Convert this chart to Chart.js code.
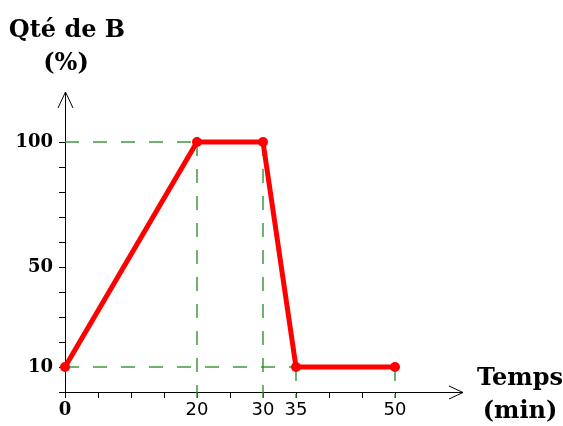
<!DOCTYPE html>
<html>
<head>
<meta charset="utf-8">
<script src="https://cdn.jsdelivr.net/npm/chart.js@4/dist/chart.umd.min.js"></script>
<style>
  html, body { margin: 0; padding: 0; background: #fff; }
  #wrap { width: 563px; height: 426px; }
</style>
</head>
<body>
<div id="wrap"><canvas id="c" width="563" height="426"></canvas></div>
<script>
// ---- data ----
const times = [0, 20, 30, 35, 50];          // Temps (min)
const qteB = [10, 100, 100, 10, 10];         // Qté de B (%)

// tick marks and labels
const xTickValues = [0, 5, 10, 15, 20, 25, 30, 35, 40, 45, 50];
const xTickLabels = [0, 20, 30, 35, 50];
const yTickValues = [0, 10, 20, 30, 40, 50, 60, 70, 80, 90, 100];
const yTickLabels = [10, 50, 100];

// dashed guide lines
const hGuideY = [100, 10];
const hGuideEndX = [20, 35];
const vGuideX = [20, 30, 35, 50];
const vGuideTopY = [100, 100, 10, 10];

const xTitle = ['Temps', '(min)'];
const yTitle = ['Qté de B', '(%)'];

const GREEN = '#2f922f';
const RED = '#ff0000';

const datasets = [{
  data: times.map((t, i) => ({ x: t, y: qteB[i] })),
  borderColor: RED,
  backgroundColor: RED,
  borderWidth: 5,
  pointRadius: 5,
  pointBackgroundColor: RED,
  pointBorderWidth: 0,
  showLine: true,
  clip: false
}];
hGuideY.forEach((y, i) => datasets.push({
  data: [{ x: 0, y: y }, { x: hGuideEndX[i], y: y }],
  borderColor: GREEN, borderWidth: 1.4, borderDash: [14, 14],
  pointRadius: 0, showLine: true, clip: false
}));
vGuideX.forEach((x, i) => datasets.push({
  data: [{ x: x, y: vGuideTopY[i] }, { x: x, y: -2.4 }],
  borderColor: GREEN, borderWidth: 1.4, borderDash: [14, 13],
  pointRadius: 0, showLine: true, clip: false
}));

const titlesPlugin = {
  id: 'titles',
  afterDraw(chart) {
    const ctx = chart.ctx;
    const a = chart.chartArea;
    ctx.save();
    // arrows
    ctx.strokeStyle = '#000';
    ctx.lineWidth = 1;
    ctx.beginPath();
    ctx.moveTo(a.left - 7, a.top + 16);
    ctx.lineTo(a.left + 0.5, a.top);
    ctx.lineTo(a.left + 8, a.top + 16);
    ctx.stroke();
    ctx.beginPath();
    ctx.moveTo(a.right - 12, a.bottom - 6);
    ctx.lineTo(a.right + 2, a.bottom + 0.5);
    ctx.lineTo(a.right - 12, a.bottom + 7);
    ctx.stroke();
    // titles
    ctx.fillStyle = '#000';
    ctx.font = 'bold 24px "DejaVu Serif"';
    ctx.textAlign = 'center';
    ctx.textBaseline = 'alphabetic';
    ctx.fillText(yTitle[0], 67, 37);
    ctx.fillText(yTitle[1], 66, 70);
    ctx.fillText(xTitle[0], 520, 385);
    ctx.fillText(xTitle[1], 520, 418);
    ctx.restore();
  }
};

new Chart(document.getElementById('c'), {
  type: 'scatter',
  data: { datasets },
  plugins: [titlesPlugin],
  options: {
    responsive: false,
    animation: false,
    layout: { padding: { left: 0, top: 92, right: 102, bottom: 0 } },
    plugins: { legend: { display: false }, tooltip: { enabled: false } },
    scales: {
      x: {
        type: 'linear', min: 0, max: 60,
        afterFit(s) { s.height = 34; },
        afterBuildTicks(s) { s.ticks = xTickValues.map(v => ({ value: v })); },
        border: { display: true, color: '#000', width: 1 },
        grid: { display: true, drawOnChartArea: false, drawTicks: true, tickLength: 6, color: '#000' },
        ticks: {
          autoSkip: false, maxRotation: 0, padding: 2, color: '#000',
          callback: v => xTickLabels.includes(v) ? String(v) : '',
          font: ctx => (ctx.tick && ctx.tick.value === 0)
            ? { family: '"DejaVu Serif"', weight: 'bold', size: 18 }
            : { family: '"DejaVu Sans"', weight: 'normal', size: 18 }
        }
      },
      y: {
        type: 'linear', min: 0, max: 120,
        afterFit(s) { s.width = 65; },
        afterBuildTicks(s) { s.ticks = yTickValues.map(v => ({ value: v })); },
        border: { display: true, color: '#000', width: 1 },
        grid: { display: true, drawOnChartArea: false, drawTicks: true, tickLength: 6, color: '#000' },
        ticks: {
          autoSkip: false, padding: 6, color: '#000',
          callback: v => yTickLabels.includes(v) ? String(v) : '',
          font: { family: '"DejaVu Serif"', weight: 'bold', size: 18 }
        }
      }
    }
  }
});
</script>
</body>
</html>
